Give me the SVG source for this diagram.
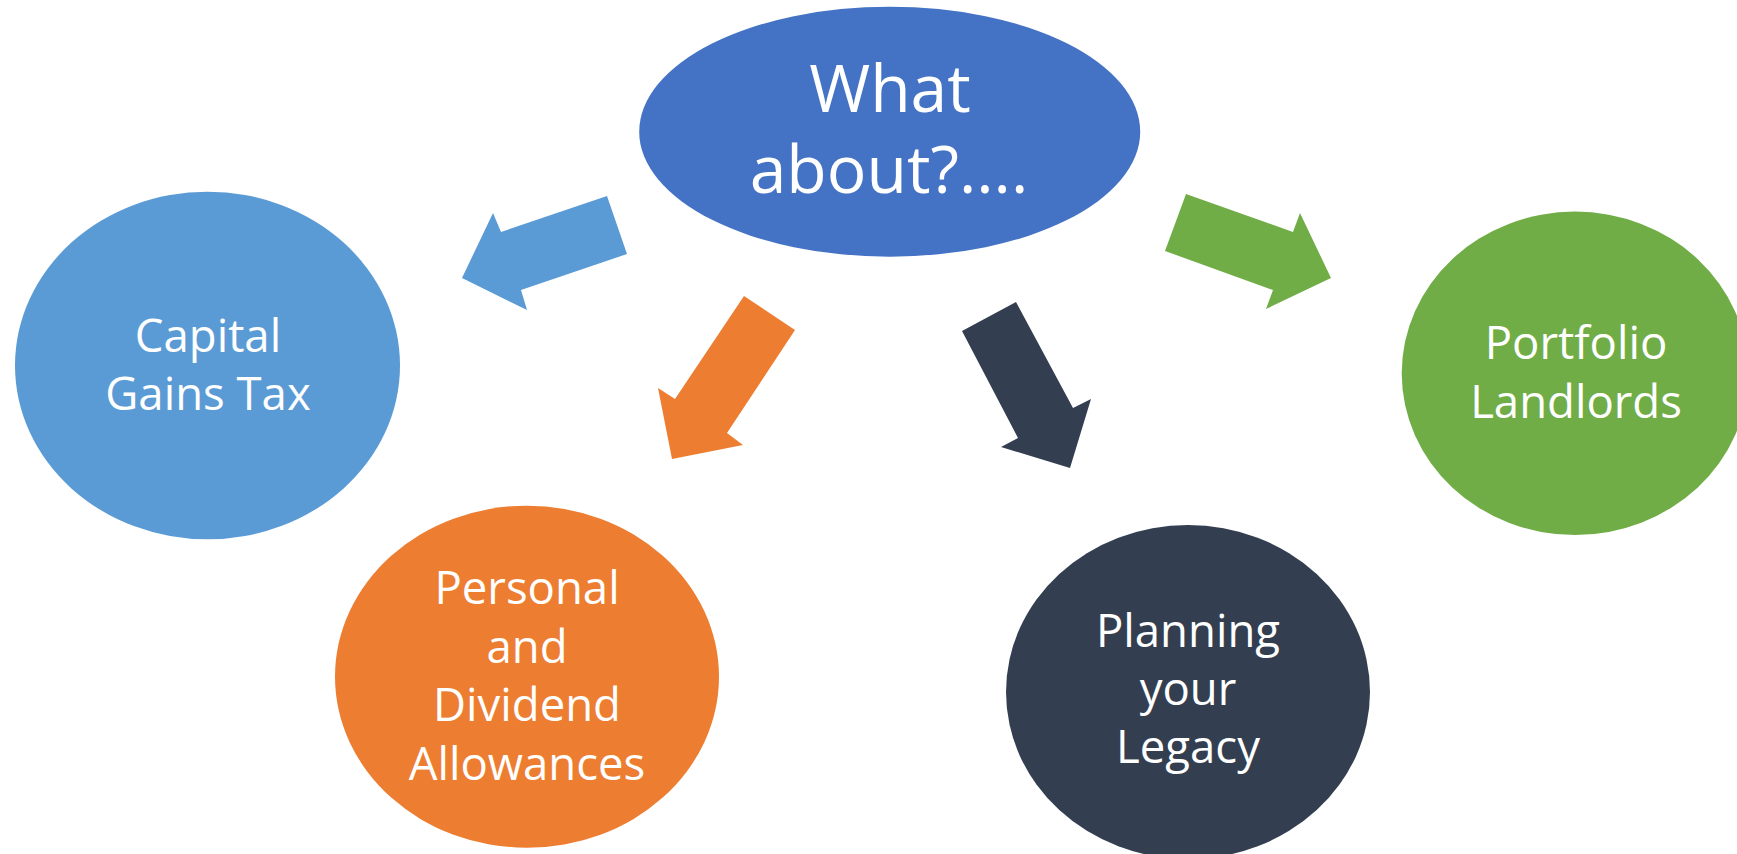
<svg xmlns="http://www.w3.org/2000/svg" width="1737" height="854" viewBox="0 0 1737 854">
<style>
  .lbl { font-family: "Open Sans", "Noto Sans", "Liberation Sans", sans-serif; fill: #ffffff; text-anchor: middle; }
  .big { font-size: 66px; }
  .small { font-size: 45.5px; }
</style>
<rect x="0" y="0" width="1737" height="854" fill="#ffffff"/>
<g id="node-center">
  <ellipse cx="889.7" cy="131.7" rx="250.5" ry="125" fill="#4472C4"/>
  <text class="lbl big" x="890" y="111.7">What</text>
  <text class="lbl big" x="889" y="193.3">about?....</text>
</g>
<g id="node-cgt">
  <ellipse cx="207.5" cy="365.5" rx="192.5" ry="173.8" fill="#5B9BD5"/>
  <text class="lbl small" x="208" y="351.7">Capital</text>
  <text class="lbl small" x="208" y="410">Gains Tax</text>
</g>
<g id="node-personal">
  <ellipse cx="527" cy="676.7" rx="192" ry="171" fill="#ED7D31"/>
  <text class="lbl small" x="527" y="604.3">Personal</text>
  <text class="lbl small" x="527" y="662.7">and</text>
  <text class="lbl small" x="527" y="721">Dividend</text>
  <text class="lbl small" x="527" y="780">Allowances</text>
</g>
<g id="node-legacy">
  <ellipse cx="1188" cy="692" rx="182" ry="167" fill="#333F50"/>
  <text class="lbl small" x="1188" y="646.7">Planning</text>
  <text class="lbl small" x="1188" y="705">your</text>
  <text class="lbl small" x="1188" y="763.3">Legacy</text>
</g>
<g id="node-landlords">
  <ellipse cx="1575" cy="373.3" rx="173.3" ry="161.7" fill="#70AD47"/>
  <text class="lbl small" x="1576" y="359.3">Portfolio</text>
  <text class="lbl small" x="1576" y="418.3">Landlords</text>
</g>
<g id="connectors">
  <polygon points="607,196 627,254 521,290 527,310 462,278 493,213 501,232" fill="#5B9BD5"/>
  <polygon points="744,296 795,330 727,433 743,445 672,459 658,388 675,399" fill="#ED7D31"/>
  <polygon points="962,331 1016,302 1073,408 1091,399 1070,468 1001,447 1018,438" fill="#333F50"/>
  <polygon points="1186,194 1293,232 1300,213 1331,278 1266,309 1273,290 1165,251" fill="#70AD47"/>
</g>
</svg>
